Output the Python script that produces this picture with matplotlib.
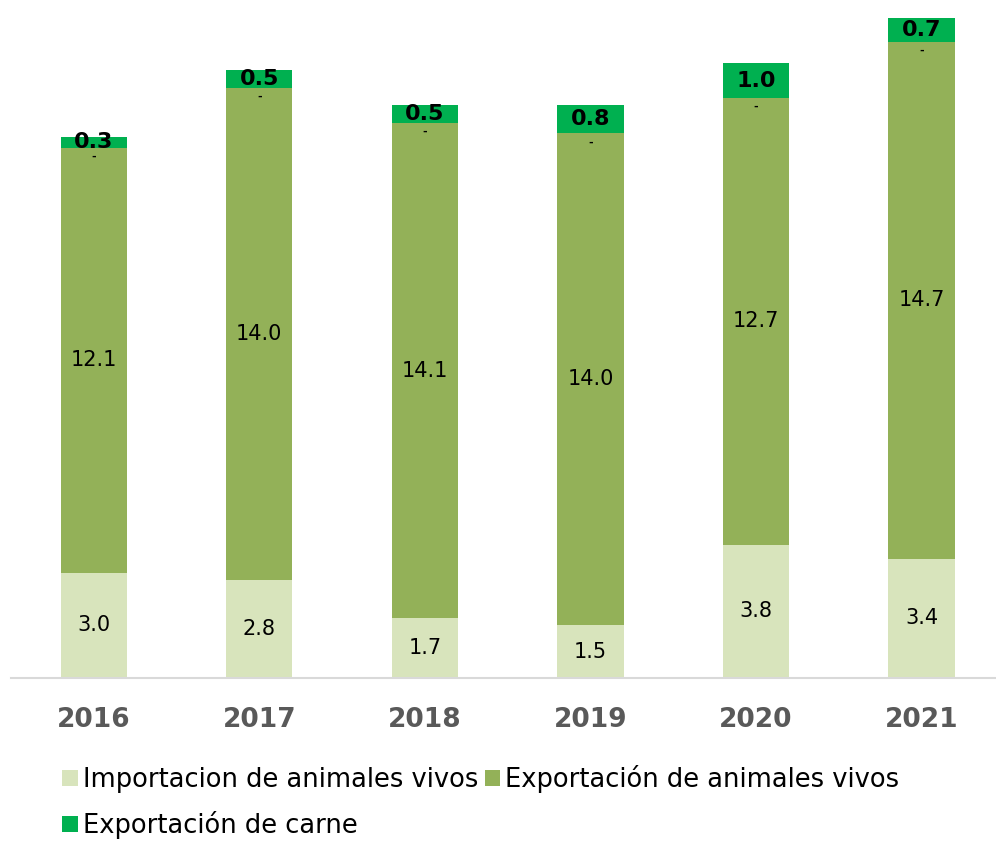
import matplotlib.pyplot as plt
import numpy as np

years = ['2016', '2017', '2018', '2019', '2020', '2021']
importacion = [3.0, 2.8, 1.7, 1.5, 3.8, 3.4]
exportacion_vivos = [12.1, 14.0, 14.1, 14.0, 12.7, 14.7]
exportacion_carne = [0.3, 0.5, 0.5, 0.8, 1.0, 0.7]

c_imp = '#D8E4BC'
c_viv = '#93B158'
c_car = '#00B050'

plt.rcParams['font.family'] = ['DejaVu Sans']

fig = plt.figure(figsize=(9.96, 8.43), dpi=100)
ax = fig.add_axes([0.011, 0.1957, 0.989, 0.8043])

x = np.arange(len(years))
w = 0.4
imp = np.array(importacion)
viv = np.array(exportacion_vivos)
car = np.array(exportacion_carne)

b1 = ax.bar(x, imp, w, color=c_imp, label='Importacion de animales vivos')
b2 = ax.bar(x, viv, w, bottom=imp, color=c_viv, label='Exportación de animales vivos')
b3 = ax.bar(x, car, w, bottom=imp + viv, color=c_car, label='Exportación de carne')

ax.bar_label(b1, labels=[f'{v:.1f}' for v in imp], label_type='center', fontsize=15, color='black')
ax.bar_label(b2, labels=[f'{v:.1f}' for v in viv], label_type='center', fontsize=15, color='black')
ax.bar_label(b3, labels=[f'{v:.1f}' for v in car], label_type='center', fontsize=16,
             fontweight='bold', color='black')

# little "-" marks (zero labels) just under the top segment
for xi, top in zip(x, imp + viv):
    ax.text(xi, top - 0.25, '-', ha='center', va='center', fontsize=8, color='black',
            fontweight='bold')

ax.set_xlim(-0.5, 5.45)
ax.set_ylim(0, 19.3)
ax.set_yticks([])
ax.set_xticks(x)
ax.set_xticklabels(years, fontsize=19, fontweight='bold', color='#595959')
ax.tick_params(axis='x', length=0, pad=21)
for s in ['top', 'right', 'left']:
    ax.spines[s].set_visible(False)
ax.spines['bottom'].set_color('#D9D9D9')
ax.spines['bottom'].set_linewidth(1.5)

# legend filled row by row: imp, viv / car
handles = [b1, b3, b2]
labels = [h.get_label() for h in handles]
ax.legend(handles, labels, loc='upper left', bbox_to_anchor=(0.052, -0.128), ncol=2,
          frameon=False, fontsize=18.5, handlelength=0.6, handleheight=0.6,
          handletextpad=0.2, columnspacing=0.25, labelspacing=0.7,
          borderaxespad=0, borderpad=0)

fig.savefig('out.png', dpi=100)
